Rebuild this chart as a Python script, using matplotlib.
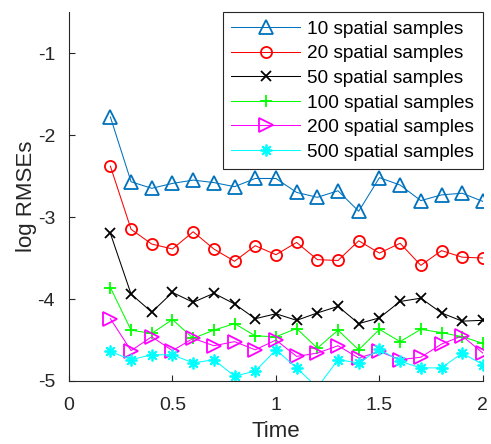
import matplotlib
matplotlib.use("Agg")
import matplotlib.pyplot as plt

plt.rcParams["font.family"] = ["Liberation Sans", "DejaVu Sans"]

time = [0.2, 0.3, 0.4, 0.5, 0.6, 0.7, 0.8, 0.9, 1.0, 1.1,
        1.2, 1.3, 1.4, 1.5, 1.6, 1.7, 1.8, 1.9, 2.0]

rmse_10 = [-1.78, -2.57, -2.65, -2.59, -2.55, -2.58, -2.63, -2.53, -2.53, -2.70,
           -2.76, -2.68, -2.93, -2.52, -2.61, -2.80, -2.73, -2.71, -2.81]
rmse_20 = [-2.38, -3.15, -3.33, -3.39, -3.18, -3.39, -3.54, -3.35, -3.46, -3.31,
           -3.52, -3.53, -3.29, -3.44, -3.32, -3.59, -3.41, -3.49, -3.50]
rmse_50 = [-3.20, -3.94, -4.16, -3.92, -4.04, -3.93, -4.06, -4.24, -4.18, -4.26,
           -4.17, -4.09, -4.30, -4.23, -4.03, -3.99, -4.17, -4.27, -4.26]
rmse_100 = [-3.86, -4.38, -4.42, -4.25, -4.48, -4.38, -4.30, -4.45, -4.46, -4.36,
            -4.60, -4.38, -4.62, -4.37, -4.52, -4.37, -4.41, -4.46, -4.54]
rmse_200 = [-4.24, -4.63, -4.46, -4.63, -4.48, -4.57, -4.52, -4.62, -4.50, -4.70,
            -4.66, -4.57, -4.72, -4.64, -4.74, -4.71, -4.55, -4.45, -4.66]
rmse_500 = [-4.64, -4.74, -4.68, -4.68, -4.78, -4.74, -4.94, -4.88, -4.62, -4.84,
            -5.08, -4.74, -4.78, -4.61, -4.76, -4.84, -4.84, -4.66, -4.80]

labels = ["10 spatial samples", "20 spatial samples", "50 spatial samples",
          "100 spatial samples", "200 spatial samples", "500 spatial samples"]

fig = plt.figure(figsize=(4.91, 4.44), dpi=100)
ax = fig.add_axes([0.1405, 0.1419, 0.843, 0.831])

series = [rmse_10, rmse_20, rmse_50, rmse_100, rmse_200, rmse_500]
colors = ["#0072BD", "#FF0000", "#000000", "#00FF00", "#FF00FF", "#00FFFF"]
# MATLAB style asterisk = 8 spokes
markers = ["^", "o", "x", "+", ">", (8, 2, 0)]
sizes = [10, 8, 6.5, 9, 10, 8.5]

for vals, c, m, s, lab in zip(series, colors, markers, sizes, labels):
    ax.plot(time, vals, color=c, marker=m, markersize=s, markerfacecolor="none",
            markeredgewidth=1.3, linewidth=0.75, label=lab)

ax.set_xlim(0, 2)
ax.set_ylim(-5, -0.5)
ax.set_xticks([0, 0.5, 1, 1.5, 2])
ax.set_xticklabels(["0", "0.5", "1", "1.5", "2"])
ax.set_yticks([-5, -4, -3, -2, -1])
ax.set_yticklabels(["-5", "-4", "-3", "-2", "-1"])

ax.spines["top"].set_visible(False)
ax.spines["right"].set_visible(False)
for sp in ["left", "bottom"]:
    ax.spines[sp].set_color("#262626")
    ax.spines[sp].set_linewidth(0.8)
ax.tick_params(direction="in", length=4, width=0.8, colors="#262626",
               labelsize=14)
ax.tick_params(axis="x", pad=11.5)
ax.tick_params(axis="y", pad=10)

ax.set_xlabel("Time", fontsize=16, color="#262626", labelpad=5)
ax.set_ylabel("log RMSEs", fontsize=16, color="#262626", labelpad=0.5)

leg = ax.legend(loc="upper right", fontsize=13.7, handlelength=3.6,
                handletextpad=0.4, borderaxespad=0, labelspacing=0.38,
                fancybox=False, framealpha=1, borderpad=0.45)
leg.get_frame().set_edgecolor("#262626")
leg.get_frame().set_linewidth(0.8)

fig.savefig("out.png", dpi=100)
